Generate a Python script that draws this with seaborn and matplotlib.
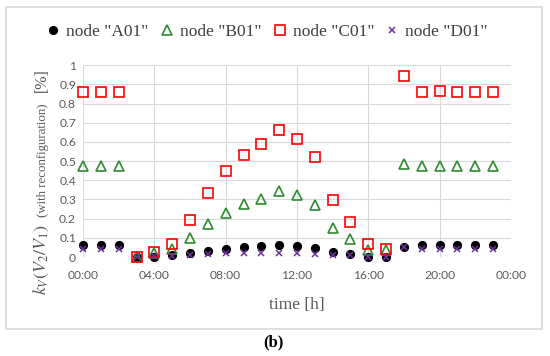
import pandas as pd
import matplotlib.pyplot as plt
import matplotlib.patches as mpatches
import seaborn as sns

# hourly samples, 00:00 .. 23:00
hours = list(range(24))
node_a = [0.064, 0.064, 0.064, 0.0, 0.002, 0.008, 0.02, 0.029, 0.042, 0.05, 0.055, 0.062,
          0.059, 0.045, 0.025, 0.017, 0.002, 0.0, 0.053, 0.064, 0.064, 0.064, 0.064, 0.064]
node_b = [0.475, 0.475, 0.475, 0.0, 0.022, 0.04, 0.1, 0.17, 0.23, 0.276, 0.304, 0.345,
          0.321, 0.269, 0.15, 0.092, 0.035, 0.036, 0.486, 0.475, 0.475, 0.475, 0.475, 0.475]
node_c = [0.86, 0.86, 0.86, 0.0, 0.025, 0.066, 0.195, 0.335, 0.45, 0.53, 0.59, 0.66,
          0.615, 0.52, 0.295, 0.183, 0.068, 0.04, 0.943, 0.86, 0.865, 0.86, 0.86, 0.86]
node_d = [0.04, 0.04, 0.04, 0.0, 0.003, 0.003, 0.01, 0.018, 0.02, 0.022, 0.022, 0.022,
          0.02, 0.018, 0.012, 0.009, 0.0, 0.0, 0.052, 0.04, 0.04, 0.04, 0.04, 0.04]
node_names = ['node "A01"', 'node "B01"', 'node "C01"', 'node "D01"']
xtick_hours = [0, 4, 8, 12, 16, 20, 24]
xtick_labels = ["00:00", "04:00", "08:00", "12:00", "16:00", "20:00", "00:00"]

df = pd.DataFrame({
    "hour": hours * 4,
    "value": node_a + node_b + node_c + node_d,
    "node": [n for n in node_names for _ in hours],
})

sns.set_theme(style="whitegrid")
plt.rcParams["font.family"] = ["Liberation Serif", "DejaVu Serif"]
plt.rcParams["mathtext.fontset"] = "stix"

# marker styles: (marker, colour, filled, size, edge width)
styles = {
    'node "A01"': ("o", "black", True, 5.8, 0.8),
    'node "B01"': ("^", "#2e8b2e", False, 6.6, 1.2),
    'node "C01"': ("s", "#ff0000", False, 7.5, 1.2),
    'node "D01"': ("x", "#7030a0", False, 5, 1.1),
}

fig = plt.figure(figsize=(5.5, 3.56), dpi=100)
ax = fig.add_axes([0.151, 0.278, 0.778, 0.539])

for name in node_names:
    m, c, filled, ms, mew = styles[name]
    sub = df[df["node"] == name]
    sns.lineplot(data=sub, x="hour", y="value", ax=ax, estimator=None, legend=False,
                 linestyle="", marker=m, markersize=ms, color=c,
                 markerfacecolor=c if filled else "none", markeredgecolor=c,
                 markeredgewidth=mew, label=name, clip_on=False)

ax.set_xlim(0, 24)
ax.set_ylim(0, 1)
ax.set_xticks(xtick_hours)
ax.set_xticklabels(xtick_labels)
ax.set_yticks([i / 10 for i in range(11)])
ax.set_yticklabels(["0"] + [f"{i / 10:.1f}" for i in range(1, 10)] + ["1"])
ax.grid(True, color="#d9d9d9", linewidth=0.8)
for s in ax.spines.values():
    s.set_visible(False)
ax.tick_params(axis="both", length=0, labelsize=8.7, labelcolor="#595959",
               labelfontfamily="Lato")
ax.tick_params(axis="x", pad=9)
ax.tick_params(axis="y", pad=5)
ax.set_xlabel("time [h]", fontsize=12.5, color="#595959", labelpad=12)
ax.set_ylabel("")

# y label in three pieces with different sizes
fig.text(46 / 550, 1 - 295 / 356, r"$k_V(V_2/V_1)$", rotation=90, rotation_mode="anchor",
         ha="left", va="baseline", fontsize=13, color="#595959")
fig.text(46 / 550, 1 - 217 / 356, "(with reconfiguration)", rotation=90, rotation_mode="anchor",
         ha="left", va="baseline", fontsize=9.3, color="#595959")
fig.text(46 / 550, 1 - 92 / 356, "[%]", rotation=90, rotation_mode="anchor",
         ha="left", va="baseline", fontsize=11.5, color="#595959")

handles, labels = ax.get_legend_handles_labels()
if ax.get_legend() is not None:
    ax.get_legend().remove()
fig.legend(handles, labels, loc="center", bbox_to_anchor=(267 / 550, 1 - 32 / 356), ncol=4,
           frameon=False, handlelength=0.8, handletextpad=0.35, columnspacing=0.65,
           prop={"size": 12.5}, labelcolor="#404040")

# outer chart frame and panel label
fig.patches.append(mpatches.Rectangle((6 / 550, 1 - 329 / 356), 536 / 550, 322 / 356,
                                      transform=fig.transFigure, fill=False,
                                      edgecolor="#d9d9d9", linewidth=1.2))
fig.text(273 / 550, 1 - 342 / 356, "(b)", ha="center", va="center", fontsize=12,
         fontweight="bold", color="black")

fig.savefig("out.png", dpi=100)
